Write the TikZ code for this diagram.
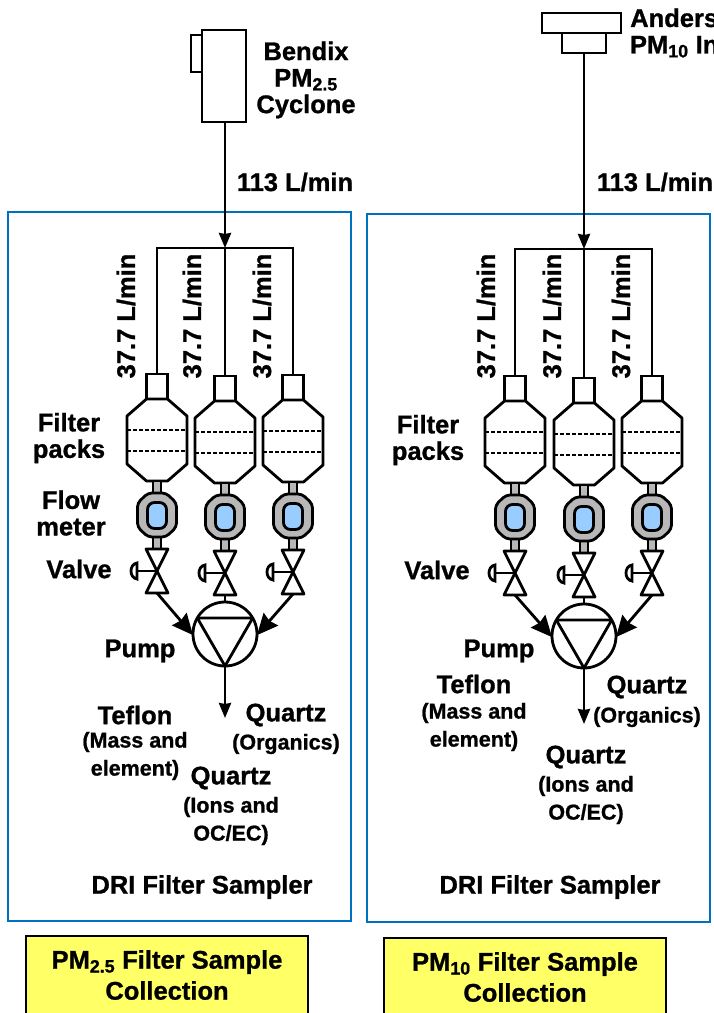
\documentclass[tikz,border=0pt]{standalone}
\usepackage{fontspec}
\usepackage{tikz}
\usetikzlibrary{arrows.meta}
\setmainfont[BoldFeatures={FakeBold=1}]{Liberation Sans}
\definecolor{panelblue}{HTML}{0070C0}
\definecolor{labelyellow}{HTML}{FFFF66}
\definecolor{meterblue}{HTML}{99CCFF}
\definecolor{metergray}{HTML}{B8B8B8}
\tikzset{
	every node/.style={font=\bfseries\fontsize{25.5}{26.5}\selectfont, align=center, inner sep=0pt, outer sep=0pt},
	small/.style={font=\bfseries\fontsize{21.5}{28}\selectfont},
	part/.style={draw, line width=2.8pt, fill=white},
	pipe/.style={line width=2.8pt},
	stem/.style={draw, line width=2.8pt, fill=metergray},
	flowarrow/.style={line width=2.8pt, -{Stealth[length=21pt,width=19pt,inset=2pt]}},
	mainarrow/.style={line width=2.8pt, -{Stealth[length=15pt,width=12pt,inset=1pt]}},
	panel/.style={draw=panelblue, line width=2.2pt},
	labelbox/.style={draw, line width=2.8pt, fill=labelyellow},
	filtertrain/.pic={
		\node [part, minimum width=21pt, minimum height=25pt] (-neck) at (0,12.5) {};
		\draw [part, line join=round] (-10.5,25) -- (-30,42) -- (-30,90) -- (-10.5,107) -- (10.5,107) -- (30,90) -- (30,42) -- (10.5,25) -- cycle;
		\draw [pipe, dashed, dash pattern=on 4pt off 2pt] (-30,56) -- (30,56);
		\draw [pipe, dashed, dash pattern=on 4pt off 2pt] (-30,77) -- (30,77);
		\draw [stem] (-4,107) rectangle (4,119);
		\draw [stem] (-4,163) rectangle (4,175);
		\draw [stem, rounded corners=4pt] (-9,119) -- (-19.5,129) -- (-19.5,153) -- (-9,163) -- (9,163) -- (19.5,153) -- (19.5,129) -- (9,119) -- cycle;
		\draw [part, fill=meterblue, rounded corners=7pt] (-9.5,128.5) rectangle (9.5,154.5);
		\draw [part, line join=round] (-11,175) -- (11,175) -- (-11,219) -- (11,219) -- cycle;
		\draw [pipe] (0,197) -- (-20,197);
		\draw [pipe] (-20,189) .. controls (-28,190) and (-28,204) .. (-20,205) -- cycle;
		\coordinate (-out) at (0,219);
	},
}

\begin{document}
\begin{tikzpicture}[x=1pt, y=-1pt]
	\useasboundingbox (0,0) rectangle (714,1013);
	% left sampler
	\draw [panel] (8,212) rectangle (351,921);
	\node [part, minimum width=44pt, minimum height=92pt] (cyclone) at (224,76) {};
	\node [part, minimum width=11pt, minimum height=37pt] (cycloneinlet) at (196.5,53.5) {};
	\node (cyclonetext) at (306,80) {Bendix\\PM\textsubscript{2.5}\\Cyclone};
	\node (leftflow) at (295,182) {113 L/min};
	\coordinate (lefttee) at (225,248);
	\pic (la) at (157,374) {filtertrain};
	\pic (lb) at (225,376) {filtertrain};
	\pic (lc) at (293,375) {filtertrain};
	\draw [mainarrow] (cyclone.south -| lefttee) -- (lefttee);
	\draw [pipe] (la-neck.north) -- (la-neck.north |- lefttee) -- (lc-neck.north |- lefttee) -- (lc-neck.north);
	\draw [pipe] (lefttee) -- (lb-neck.north);
	\node [rotate=90] (leftrate1) at (126,316) {37.7 L/min};
	\node [rotate=90] (leftrate2) at (192,316) {37.7 L/min};
	\node [rotate=90] (leftrate3) at (262,316) {37.7 L/min};
	\node (leftpacks) at (69,438) {Filter\\packs};
	\node (leftmeter) at (71,513) {Flow\\meter};
	\node (leftvalve) at (79,569) {Valve};
	\node [part, circle, minimum size=64pt] (leftpump) at (225,634) {};
	\draw [pipe, line join=round] (leftpump.150) -- (leftpump.30) -- (leftpump.270) -- cycle;
	\draw [pipe] (lb-out) -- (leftpump.north);
	\draw [flowarrow] (la-out) -- (leftpump.182);
	\draw [flowarrow] (lc-out) -- (leftpump.358);
	\coordinate (leftend) at (225,718);
	\draw [mainarrow] (leftpump.south) -- (leftend);
	\node (leftpumptext) at (140,651) {Pump};
	\node (leftteflon) at (135,715) {Teflon};
	\node [small] (leftmass) at (135,756) {(Mass and\\element)};
	\node (leftquartza) at (286,715) {Quartz};
	\node [small] (leftorganics) at (286,744) {(Organics)};
	\node (leftquartzb) at (231,778) {Quartz};
	\node [small] (leftions) at (231,821) {(Ions and\\OC/EC)};
	\node (lefttitle) at (202,887) {DRI Filter Sampler};
	\draw [labelbox] (26,936) rectangle (308,1025);
	\node [font=\bfseries\fontsize{25.5}{31}\selectfont] (leftlabel) at (167,975) {PM\textsubscript{2.5} Filter Sample\\Collection};
	% right sampler
	\draw [panel] (367,214) rectangle (710,922);
	\node [part, minimum width=79pt, minimum height=20pt] (inlethead) at (581.5,23) {};
	\node [part, minimum width=44pt, minimum height=20pt] (inletbase) at (584,43) {};
	\node [anchor=west] (inlettext) at (630,33) {Anders\\PM\textsubscript{10} In};
	\node (rightflow) at (655,182) {113 L/min};
	\coordinate (righttee) at (584,249);
	\pic (ra) at (515,376) {filtertrain};
	\pic (rb) at (584,378) {filtertrain};
	\pic (rc) at (652,376) {filtertrain};
	\draw [mainarrow] (inletbase.south) -- (righttee);
	\draw [pipe] (ra-neck.north) -- (ra-neck.north |- righttee) -- (rc-neck.north |- righttee) -- (rc-neck.north);
	\draw [pipe] (righttee) -- (rb-neck.north);
	\node [rotate=90] (rightrate1) at (486,316) {37.7 L/min};
	\node [rotate=90] (rightrate2) at (552,316) {37.7 L/min};
	\node [rotate=90] (rightrate3) at (621,316) {37.7 L/min};
	\node (rightpacks) at (428,440) {Filter\\packs};
	\node (rightvalve) at (437,570) {Valve};
	\node [part, circle, minimum size=64pt] (rightpump) at (584,636) {};
	\draw [pipe, line join=round] (rightpump.150) -- (rightpump.30) -- (rightpump.270) -- cycle;
	\draw [pipe] (rb-out) -- (rightpump.north);
	\draw [flowarrow] (ra-out) -- (rightpump.182);
	\draw [flowarrow] (rc-out) -- (rightpump.358);
	\coordinate (rightend) at (584,724);
	\draw [mainarrow] (rightpump.south) -- (rightend);
	\node (rightpumptext) at (499,651) {Pump};
	\node (rightteflon) at (474,684) {Teflon};
	\node [small] (rightmass) at (474,727) {(Mass and\\element)};
	\node (rightquartza) at (647,687) {Quartz};
	\node [small] (rightorganics) at (647,717) {(Organics)};
	\node (rightquartzb) at (586,757) {Quartz};
	\node [small] (rightions) at (586,800) {(Ions and\\OC/EC)};
	\node (righttitle) at (550,887) {DRI Filter Sampler};
	\draw [labelbox] (384,938) rectangle (666,1025);
	\node [font=\bfseries\fontsize{25.5}{31}\selectfont] (rightlabel) at (525,977) {PM\textsubscript{10} Filter Sample\\Collection};
\end{tikzpicture}
\end{document}
